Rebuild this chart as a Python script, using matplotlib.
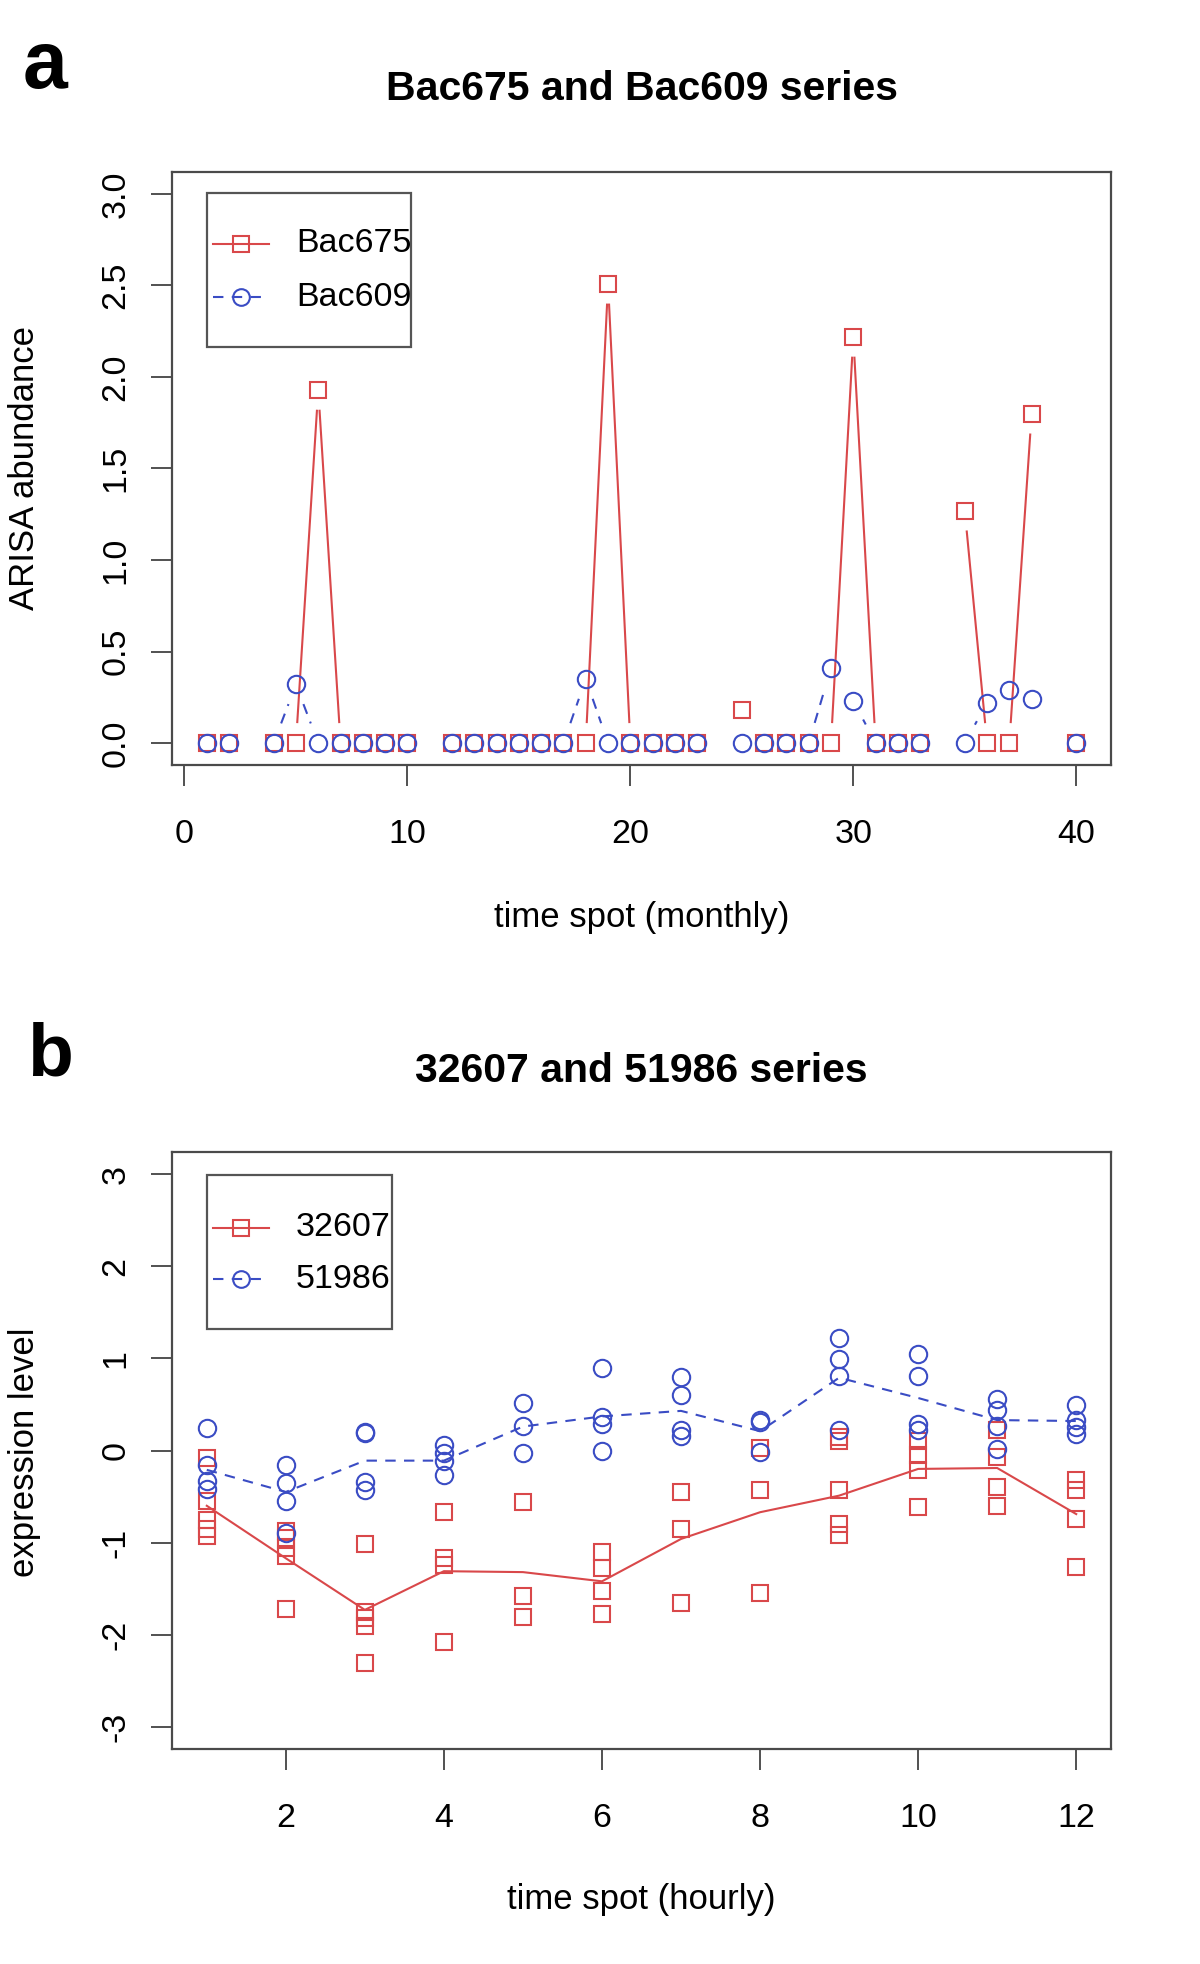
import numpy as np
import matplotlib
matplotlib.use("Agg")
import matplotlib.pyplot as plt
from matplotlib.lines import Line2D
from matplotlib.patches import Rectangle

plt.rcParams['font.family'] = ['Liberation Sans', 'DejaVu Sans']
plt.rcParams['axes.unicode_minus'] = False

nan = np.nan

# panel a: monthly ARISA abundance
months = list(range(1, 41))
bac675 = [0, 0, nan, 0, 0, 1.93, 0, 0, 0, 0,
          nan, 0, 0, 0, 0, 0, 0, 0, 2.51, 0,
          0, 0, 0, nan, 0.18, 0, 0, 0, 0, 2.22,
          0, 0, 0, nan, 1.27, 0, 0, 1.80, nan, 0]
bac609 = [0, 0, nan, 0, 0.32, 0, 0, 0, 0, 0,
          nan, 0, 0, 0, 0, 0, 0, 0.35, 0, 0,
          0, 0, 0, nan, 0, 0, 0, 0, 0.41, 0.23,
          0, 0, 0, nan, 0, 0.22, 0.29, 0.24, nan, 0]

# panel b: hourly expression, replicates per hour
hours = list(range(1, 13))
reps_32607 = [
    [-0.08, -0.55, -0.75, -0.85, -0.93],
    [-0.87, -0.95, -1.06, -1.15, -1.72],
    [-1.01, -1.75, -1.82, -1.90, -2.31],
    [-0.67, -1.17, -1.24, -2.08],
    [-0.56, -1.58, -1.81],
    [-1.10, -1.28, -1.53, -1.77],
    [-0.45, -0.85, -1.66],
    [0.03, -0.43, -1.55],
    [0.15, 0.10, -0.43, -0.80, -0.92],
    [0.10, -0.05, -0.21, -0.61],
    [0.22, -0.07, -0.40, -0.60],
    [-0.32, -0.43, -0.74, -1.26],
]
reps_51986 = [
    [0.24, -0.16, -0.33, -0.42],
    [-0.16, -0.35, -0.55, -0.90],
    [0.20, 0.19, -0.34, -0.43],
    [0.06, -0.03, -0.11, -0.27],
    [0.52, 0.27, -0.03],
    [0.90, 0.36, 0.29, 0.00],
    [0.80, 0.60, 0.22, 0.16],
    [0.33, 0.31, -0.02],
    [1.22, 0.99, 0.81, 0.22],
    [1.05, 0.81, 0.29, 0.22],
    [0.56, 0.44, 0.27, 0.02],
    [0.49, 0.33, 0.25, 0.18],
]
trend_32607 = [-0.60, -1.17, -1.73, -1.31, -1.32, -1.42, -0.96, -0.67, -0.49, -0.20, -0.19, -0.69]
trend_51986 = [-0.21, -0.45, -0.11, -0.11, 0.26, 0.37, 0.43, 0.21, 0.79, 0.57, 0.33, 0.32]

RED = '#d9484a'
BLUE = '#3a4cc4'
FRAME = '#4a4a4a'
W, H = 1200, 1964
LW = 1.5
MEW = 1.5


def fx(px):
    return px / W


def fy(py):
    return 1 - py / H


fig = plt.figure(figsize=(W / 100, H / 100), dpi=100)
fig.patch.set_facecolor('white')


def style_axes(ax):
    for s in ax.spines.values():
        s.set_color(FRAME)
        s.set_linewidth(1.6)
    ax.tick_params(direction='out', length=15, width=1.2, color='#333333', labelsize=24.5)
    ax.tick_params(axis='x', pad=24)
    ax.tick_params(axis='y', pad=14, labelrotation=90)
    for lab in ax.get_yticklabels():
        lab.set_va('center')


def gapped(ax, x, y, gap, **kw):
    # R type="b": segments stop short of the points
    pts = ax.transData.transform(np.column_stack([x, y]))
    inv = ax.transData.inverted()
    for i in range(len(x) - 1):
        if np.isnan(y[i]) or np.isnan(y[i + 1]):
            continue
        p0, p1 = pts[i], pts[i + 1]
        d = np.hypot(*(p1 - p0))
        if d <= 2 * gap:
            continue
        u = (p1 - p0) / d
        seg = inv.transform(np.array([p0 + gap * u, p1 - gap * u]))
        ax.plot(seg[:, 0], seg[:, 1], **kw)


def legend_box(x0, y0, x1, y1, rows):
    fig.add_artist(Rectangle((fx(x0), fy(y1)), fx(x1) - fx(x0), fy(y0) - fy(y1),
                             transform=fig.transFigure, fill=False,
                             edgecolor='#555555', lw=1.6))
    for label, color, ls, mk, ypx in rows:
        fig.add_artist(Line2D([fx(213), fx(269)], [fy(ypx), fy(ypx)], color=color,
                              ls=ls, lw=LW, transform=fig.transFigure))
        fig.add_artist(Line2D([fx(241)], [fy(ypx)], ls='none', marker=mk, ms=12,
                              mfc='none', mec=color, mew=MEW, transform=fig.transFigure))
        fig.text(fx(296), fy(ypx), label, fontsize=24.5, ha='left', va='center')


# ---------------- panel a ----------------
ax1 = fig.add_axes([fx(172), fy(765), (1111 - 172) / W, (765 - 172) / H])
ax1.set_xlim(-0.56, 41.56)
ax1.set_ylim(-0.12, 3.12)
ax1.set_xticks([0, 10, 20, 30, 40])
ax1.set_yticks([0, 0.5, 1.0, 1.5, 2.0, 2.5, 3.0])
ax1.set_yticklabels(['0.0', '0.5', '1.0', '1.5', '2.0', '2.5', '3.0'])
style_axes(ax1)

gapped(ax1, months, bac675, 21, color=RED, lw=LW, ls='-')
gapped(ax1, months, bac609, 21, color=BLUE, lw=LW, dashes=(5, 4))
ax1.plot(months, bac675, ls='none', marker='s', ms=12, mfc='none', mec=RED, mew=MEW)
ax1.plot(months, bac609, ls='none', marker='o', ms=12.5, mfc='none', mec=BLUE, mew=MEW)

fig.text(fx(45), fy(88), 'a', fontsize=58, fontweight='bold', ha='center', va='baseline')
fig.text(fx(641.5), fy(89), 'Bac675 and Bac609 series', fontsize=29.5, fontweight='bold',
         ha='center', va='center')
fig.text(fx(641.5), fy(918), 'time spot (monthly)', fontsize=25, ha='center', va='center')
fig.text(fx(25), fy(468), 'ARISA abundance', fontsize=25, rotation=90, ha='center', va='center')
legend_box(207, 193, 411, 347, [('Bac675', RED, '-', 's', 244),
                                 ('Bac609', BLUE, (0, (5, 4)), 'o', 297)])

# ---------------- panel b ----------------
ax2 = fig.add_axes([fx(172), fy(1749), (1111 - 172) / W, (1749 - 1152) / H])
ax2.set_xlim(0.56, 12.44)
ax2.set_ylim(-3.24, 3.24)
ax2.set_xticks([2, 4, 6, 8, 10, 12])
ax2.set_yticks([-3, -2, -1, 0, 1, 2, 3])
style_axes(ax2)

rx = [h for h, v in zip(hours, reps_32607) for _ in v]
ry = [val for v in reps_32607 for val in v]
bx = [h for h, v in zip(hours, reps_51986) for _ in v]
by = [val for v in reps_51986 for val in v]
ax2.plot(rx, ry, ls='none', marker='s', ms=12, mfc='none', mec=RED, mew=MEW)
ax2.plot(bx, by, ls='none', marker='o', ms=12.5, mfc='none', mec=BLUE, mew=MEW)
ax2.plot(hours, trend_32607, color=RED, lw=LW)
ax2.plot(hours, trend_51986, color=BLUE, lw=LW, dashes=(5, 4))

fig.text(fx(50), fy(1075), 'b', fontsize=54, fontweight='bold', ha='center', va='baseline')
fig.text(fx(641.5), fy(1071), '32607 and 51986 series', fontsize=29.5, fontweight='bold',
         ha='center', va='center')
fig.text(fx(641.5), fy(1900), 'time spot (hourly)', fontsize=25, ha='center', va='center')
fig.text(fx(25), fy(1452), 'expression level', fontsize=25, rotation=90, ha='center', va='center')
legend_box(207, 1175, 392, 1329, [('32607', RED, '-', 's', 1228),
                                   ('51986', BLUE, (0, (5, 4)), 'o', 1279)])

fig.savefig('out.png', dpi=100, facecolor='white')
